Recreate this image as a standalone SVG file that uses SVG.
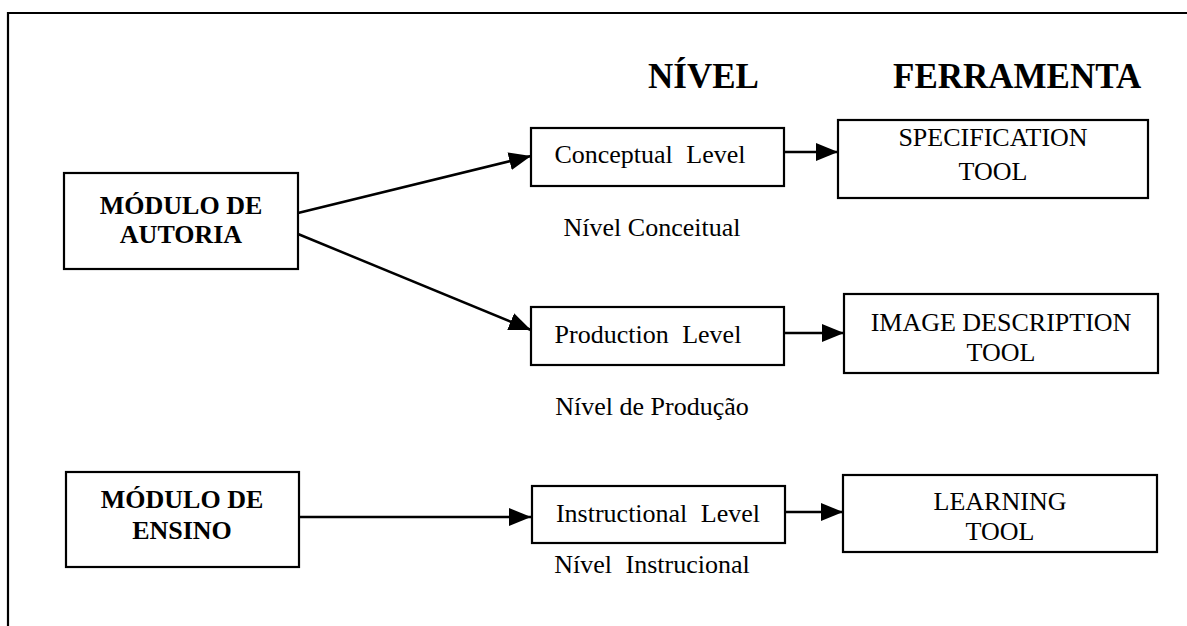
<svg xmlns="http://www.w3.org/2000/svg" width="1187" height="626" viewBox="0 0 1187 626">
<style>
  .box { fill: #fff; stroke: #000; stroke-width: 2.2; }
  .conn line { stroke: #000; stroke-width: 2.5; fill: none; }
  .t { font-family: "Liberation Serif", "Times New Roman", serif; font-size: 26px; fill: #000; text-anchor: middle; }
  .b { font-family: "Liberation Serif", "Times New Roman", serif; font-size: 26px; font-weight: bold; fill: #000; text-anchor: middle; }
  .h { font-family: "Liberation Serif", "Times New Roman", serif; font-size: 35px; font-weight: bold; fill: #000; }
  .ws { word-spacing: 7px; }
</style>
<defs>
  <marker id="arr" markerUnits="userSpaceOnUse" markerWidth="23" markerHeight="19" refX="22" refY="9" orient="auto">
    <path d="M0,0 L22,9 L0,18 z" fill="#000"/>
  </marker>
</defs>
<rect width="1187" height="626" fill="#fff"/>
<polyline points="1187,13 8,13 8,626" fill="none" stroke="#000" stroke-width="2.2"/>

<g id="headers">
  <text class="h" x="648" y="88">NÍVEL</text>
  <text class="h" x="893" y="88">FERRAMENTA</text>
</g>

<g id="connectors" class="conn">
  <line x1="298" y1="213" x2="531" y2="156" marker-end="url(#arr)"/>
  <line x1="298" y1="234" x2="531" y2="330" marker-end="url(#arr)"/>
  <line x1="299" y1="517" x2="531" y2="517" marker-end="url(#arr)"/>
  <line x1="784" y1="152" x2="838" y2="152" marker-end="url(#arr)"/>
  <line x1="784" y1="333" x2="844" y2="333" marker-end="url(#arr)"/>
  <line x1="785" y1="512" x2="843" y2="512" marker-end="url(#arr)"/>
</g>

<g id="modulo-autoria">
  <rect class="box" x="64" y="173" width="234" height="96"/>
  <text class="b" x="181" y="214">MÓDULO DE</text>
  <text class="b" x="181" y="243">AUTORIA</text>
</g>

<g id="modulo-ensino">
  <rect class="box" x="66" y="472" width="233" height="95"/>
  <text class="b" x="182" y="508">MÓDULO DE</text>
  <text class="b" x="182" y="539">ENSINO</text>
</g>

<g id="conceptual">
  <rect class="box" x="531" y="128" width="253" height="58"/>
  <text class="t ws" x="650" y="163">Conceptual Level</text>
  <text class="t" x="652" y="236">Nível Conceitual</text>
</g>

<g id="production">
  <rect class="box" x="531" y="307" width="253" height="58"/>
  <text class="t ws" x="648" y="343">Production Level</text>
  <text class="t" x="652" y="415">Nível de Produção</text>
</g>

<g id="instructional">
  <rect class="box" x="532" y="486" width="253" height="57"/>
  <text class="t ws" x="658" y="522">Instructional Level</text>
  <text class="t ws" x="652" y="573">Nível Instrucional</text>
</g>

<g id="specification">
  <rect class="box" x="838" y="120" width="310" height="78"/>
  <text class="t" x="993" y="146">SPECIFICATION</text>
  <text class="t" x="993" y="180">TOOL</text>
</g>

<g id="image-description">
  <rect class="box" x="844" y="294" width="314" height="79"/>
  <text class="t" x="1001" y="331">IMAGE DESCRIPTION</text>
  <text class="t" x="1001" y="361">TOOL</text>
</g>

<g id="learning">
  <rect class="box" x="843" y="475" width="314" height="77"/>
  <text class="t" x="1000" y="510">LEARNING</text>
  <text class="t" x="1000" y="540">TOOL</text>
</g>
</svg>
